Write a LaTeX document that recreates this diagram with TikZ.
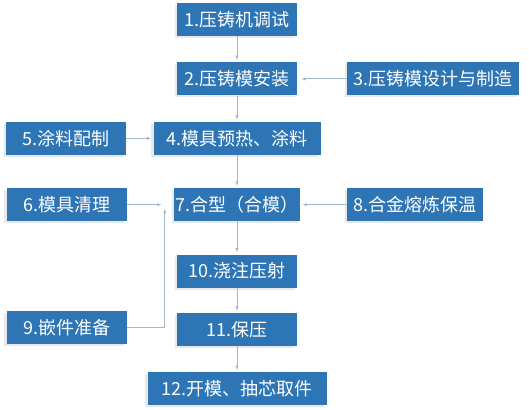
\documentclass[tikz,border=0pt]{standalone}
\usepackage{fontspec}
\setmainfont{Noto Sans CJK SC}
\usepackage{xcolor}
\usetikzlibrary{arrows.meta, positioning, shadows}

\definecolor{boxblue}{HTML}{2E75B6}
\definecolor{arrgray}{HTML}{A3B8CF}

\begin{document}
\begin{tikzpicture}[
      font=\fontsize{18}{20}\selectfont,
      box/.style={rectangle, fill=boxblue, text=white, minimum width=120pt,
          minimum height=33pt, inner xsep=1pt, align=center,
          drop shadow={shadow xshift=-2.5pt, shadow yshift=-2pt, opacity=0.18, fill=gray}},
      arr/.style={-{Latex[length=4.5pt,width=3.5pt]}, arrgray, line width=0.8pt, shorten >=2pt},
    ]

    \useasboundingbox (0,0) rectangle (529pt,-409pt);

    \node[box] (b1) at (237pt,-19.5pt) {1.压铸机调试};
    \node[box, below=26pt of b1] (b2) {2.压铸模安装};
    \node[box, minimum width=172pt, right=50pt of b2] (b3) {3.压铸模设计与制造};
    \node[box, minimum width=167pt, below=26pt of b2] (b4) {4.模具预热、涂料};
    \node[box, left=27pt of b4] (b5) {5.涂料配制};
    \node[box, minimum width=126pt, below=33pt of b4] (b7) {7.合型（合模）};
    \node[box, left=47pt of b7] (b6) {6.模具清理};
    \node[box, minimum width=136pt, right=47pt of b7] (b8) {8.合金熔炼保温};
    \node[box, below=33pt of b7] (b10) {10.浇注压射};
    \node[box, below=25pt of b10] (b11) {11.保压};
    \node[box, left=50pt of b11, yshift=2pt] (b9) {9.嵌件准备};
    \node[box, minimum width=179pt, below=26pt of b11] (b12) {12.开模、抽芯取件};

    \coordinate (j6) at ([xshift=-12pt]b7.west);
    \coordinate (j9) at ([xshift=-9pt, yshift=-4pt]b7.west);

    \draw[arr] (b1) -- (b2);
    \draw[arr, shorten >=4pt] (b3) -- (b2);
    \draw[arr] (b2) -- (b4);
    \draw[arr] (b5) -- (b4);
    \draw[arr] (b4) -- (b7);
    \draw[arr, shorten >=0pt] (b6) -- (j6);
    \draw[arr] (b8) -- (b7);
    \draw[arr, shorten >=0pt] (b9.east) -| (j9);
    \draw[arr] (b7) -- (b10);
    \draw[arr] (b10) -- (b11);
    \draw[arr] (b11) -- (b12);

  \end{tikzpicture}
\end{document}
